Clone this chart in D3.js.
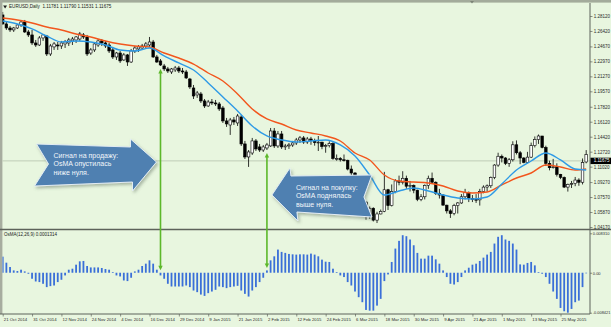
<!DOCTYPE html>
<html>
<head>
<meta charset="utf-8">
<script src="https://cdn.jsdelivr.net/npm/d3@7"></script>
<style>
  html, body { margin: 0; padding: 0; background: #e8f6df; }
  svg { display: block; font-family: "Liberation Sans", Arial, sans-serif; }
</style>
</head>
<body>
<svg id="chart" width="611" height="327"></svg>
<script>
// ---- data ----
const title = "EURUSD,Daily  1.11781 1.11790 1.11531 1.11675";
const osmaTitle = "OsMA(12,26,9) 0.0001314";
const lastPrice = 1.11675;

const priceTicks = [1.28120, 1.26420, 1.24670, 1.22970, 1.21270, 1.19570, 1.17820,
  1.16120, 1.14420, 1.12720, 1.11020, 1.09270, 1.07570, 1.05870, 1.04170];

const osmaTicks = [0.008310, 0, -0.008421];
const osmaTickLabels = ["0.008310", "0.00", "-0.008421"];

// bar index of each date label (one label every 8 bars)
const dateTickIdx = [0, 8, 16, 24, 32, 40, 48, 56, 64, 72, 80, 88, 96, 104, 112, 120, 128, 136, 144, 152];
const dateTicks = ["21 Oct 2014", "31 Oct 2014", "12 Nov 2014", "24 Nov 2014", "4 Dec 2014",
  "16 Dec 2014", "29 Dec 2014", "9 Jan 2015", "21 Jan 2015", "2 Feb 2015", "12 Feb 2015",
  "24 Feb 2015", "6 Mar 2015", "18 Mar 2015", "30 Mar 2015", "9 Apr 2015", "21 Apr 2015",
  "1 May 2015", "13 May 2015", "25 May 2015"];

// daily candles: [open, high, low, close]
const candles = [
  [1.2824, 1.2858, 1.2710, 1.2722], [1.2722, 1.2744, 1.2654, 1.2676], [1.2676, 1.2699, 1.2631, 1.2654],
  [1.2654, 1.2688, 1.2631, 1.2676], [1.2676, 1.2722, 1.2665, 1.2710], [1.2710, 1.2767, 1.2688, 1.2744],
  [1.2744, 1.2767, 1.2619, 1.2631], [1.2631, 1.2654, 1.2574, 1.2597], [1.2597, 1.2654, 1.2483, 1.2506],
  [1.2506, 1.2540, 1.2461, 1.2483], [1.2483, 1.2585, 1.2472, 1.2563], [1.2563, 1.2608, 1.2529, 1.2597],
  [1.2585, 1.2597, 1.2358, 1.2381], [1.2381, 1.2495, 1.2358, 1.2472], [1.2461, 1.2517, 1.2427, 1.2495],
  [1.2483, 1.2517, 1.2427, 1.2472], [1.2472, 1.2529, 1.2438, 1.2506], [1.2495, 1.2540, 1.2449, 1.2517],
  [1.2506, 1.2563, 1.2472, 1.2540], [1.2529, 1.2574, 1.2483, 1.2551], [1.2540, 1.2585, 1.2506, 1.2574],
  [1.2551, 1.2631, 1.2529, 1.2608], [1.2597, 1.2619, 1.2551, 1.2574], [1.2574, 1.2597, 1.2358, 1.2381],
  [1.2392, 1.2449, 1.2370, 1.2427], [1.2427, 1.2517, 1.2404, 1.2495], [1.2483, 1.2551, 1.2461, 1.2529],
  [1.2529, 1.2551, 1.2472, 1.2506], [1.2506, 1.2529, 1.2449, 1.2472], [1.2483, 1.2506, 1.2392, 1.2415],
  [1.2427, 1.2461, 1.2324, 1.2347], [1.2347, 1.2404, 1.2313, 1.2392], [1.2392, 1.2415, 1.2279, 1.2302],
  [1.2313, 1.2392, 1.2302, 1.2370], [1.2370, 1.2381, 1.2245, 1.2290], [1.2290, 1.2438, 1.2279, 1.2415],
  [1.2415, 1.2472, 1.2392, 1.2449], [1.2438, 1.2483, 1.2404, 1.2461], [1.2449, 1.2495, 1.2427, 1.2472],
  [1.2472, 1.2517, 1.2449, 1.2495], [1.2483, 1.2574, 1.2461, 1.2517], [1.2517, 1.2540, 1.2336, 1.2347],
  [1.2347, 1.2370, 1.2279, 1.2290], [1.2302, 1.2324, 1.2245, 1.2256], [1.2245, 1.2268, 1.2188, 1.2211],
  [1.2211, 1.2234, 1.2165, 1.2188], [1.2177, 1.2222, 1.2154, 1.2211], [1.2200, 1.2245, 1.2177, 1.2222],
  [1.2222, 1.2245, 1.2165, 1.2188], [1.2188, 1.2222, 1.2154, 1.2177], [1.2177, 1.2200, 1.2097, 1.2109],
  [1.2097, 1.2109, 1.1984, 1.2007], [1.1995, 1.2029, 1.1870, 1.1904], [1.1916, 1.1961, 1.1882, 1.1938],
  [1.1927, 1.1950, 1.1825, 1.1848], [1.1848, 1.1870, 1.1768, 1.1791], [1.1791, 1.1859, 1.1780, 1.1836],
  [1.1836, 1.1870, 1.1802, 1.1825], [1.1825, 1.1859, 1.1791, 1.1814], [1.1814, 1.1836, 1.1734, 1.1757],
  [1.1768, 1.1791, 1.1598, 1.1621], [1.1621, 1.1655, 1.1553, 1.1587], [1.1575, 1.1655, 1.1462, 1.1632],
  [1.1632, 1.1666, 1.1575, 1.1609], [1.1598, 1.1700, 1.1564, 1.1677], [1.1666, 1.1689, 1.1337, 1.1360],
  [1.1360, 1.1394, 1.1189, 1.1212], [1.1212, 1.1291, 1.1099, 1.1269], [1.1257, 1.1428, 1.1235, 1.1394],
  [1.1394, 1.1416, 1.1280, 1.1303], [1.1326, 1.1360, 1.1269, 1.1291], [1.1291, 1.1348, 1.1269, 1.1326],
  [1.1314, 1.1371, 1.1291, 1.1348], [1.1337, 1.1541, 1.1326, 1.1507], [1.1507, 1.1541, 1.1314, 1.1337],
  [1.1337, 1.1507, 1.1314, 1.1473], [1.1473, 1.1507, 1.1303, 1.1326], [1.1326, 1.1360, 1.1291, 1.1337],
  [1.1337, 1.1371, 1.1303, 1.1348], [1.1348, 1.1394, 1.1326, 1.1371], [1.1371, 1.1428, 1.1348, 1.1405],
  [1.1405, 1.1450, 1.1371, 1.1428], [1.1428, 1.1450, 1.1360, 1.1382], [1.1382, 1.1439, 1.1360, 1.1416],
  [1.1416, 1.1440, 1.1350, 1.1400], [1.1400, 1.1420, 1.1340, 1.1375], [1.1375, 1.1450, 1.1280, 1.1380],
  [1.1380, 1.1385, 1.1300, 1.1330], [1.1330, 1.1360, 1.1260, 1.1340], [1.1340, 1.1390, 1.1320, 1.1365],
  [1.1365, 1.1380, 1.1180, 1.1195], [1.1195, 1.1240, 1.1170, 1.1195], [1.1195, 1.1210, 1.1160, 1.1180],
  [1.1180, 1.1240, 1.1160, 1.1175], [1.1175, 1.1180, 1.1060, 1.1075], [1.1075, 1.1115, 1.1000, 1.1030],
  [1.1030, 1.1040, 1.0840, 1.0845], [1.0845, 1.0880, 1.0820, 1.0850], [1.0850, 1.0860, 1.0690, 1.0700],
  [1.0700, 1.0710, 1.0500, 1.0550], [1.0550, 1.0650, 1.0510, 1.0630], [1.0630, 1.0640, 1.0480, 1.0495],
  [1.0495, 1.0590, 1.0462, 1.0565], [1.0565, 1.0615, 1.0560, 1.0595], [1.0595, 1.1043, 1.0585, 1.0840],
  [1.0840, 1.0850, 1.0610, 1.0660], [1.0660, 1.0900, 1.0650, 1.0820], [1.0820, 1.0960, 1.0800, 1.0940],
  [1.0940, 1.1000, 1.0890, 1.0925], [1.0925, 1.1050, 1.0900, 1.0970], [1.0970, 1.1000, 1.0850, 1.0880],
  [1.0880, 1.0940, 1.0820, 1.0890], [1.0890, 1.0900, 1.0800, 1.0835], [1.0835, 1.0840, 1.0710, 1.0730],
  [1.0730, 1.0790, 1.0710, 1.0760], [1.0760, 1.0900, 1.0730, 1.0890], [1.0890, 1.1000, 1.0850, 1.0970],
  [1.0970, 1.1035, 1.0910, 1.0925], [1.0925, 1.0935, 1.0780, 1.0800], [1.0800, 1.0850, 1.0740, 1.0780],
  [1.0780, 1.0790, 1.0660, 1.0665], [1.0665, 1.0670, 1.0570, 1.0600], [1.0600, 1.0620, 1.0520, 1.0570],
  [1.0570, 1.0680, 1.0550, 1.0660], [1.0660, 1.0700, 1.0570, 1.0690], [1.0690, 1.0790, 1.0680, 1.0760],
  [1.0760, 1.0850, 1.0730, 1.0810], [1.0810, 1.0820, 1.0700, 1.0740], [1.0740, 1.0780, 1.0700, 1.0730],
  [1.0730, 1.0790, 1.0690, 1.0725], [1.0725, 1.0850, 1.0660, 1.0820], [1.0820, 1.0890, 1.0800, 1.0870],
  [1.0870, 1.0900, 1.0820, 1.0885], [1.0885, 1.0990, 1.0860, 1.0980], [1.0980, 1.1130, 1.0960, 1.1120],
  [1.1120, 1.1260, 1.1100, 1.1220], [1.1220, 1.1240, 1.1150, 1.1200], [1.1200, 1.1210, 1.1120, 1.1140],
  [1.1140, 1.1200, 1.1100, 1.1180], [1.1180, 1.1390, 1.1160, 1.1350], [1.1350, 1.1400, 1.1240, 1.1260],
  [1.1260, 1.1280, 1.1130, 1.1200], [1.1200, 1.1210, 1.1140, 1.1150], [1.1150, 1.1270, 1.1140, 1.1210],
  [1.1210, 1.1375, 1.1200, 1.1340], [1.1340, 1.1445, 1.1320, 1.1410], [1.1410, 1.1467, 1.1360, 1.1450],
  [1.1450, 1.1450, 1.1310, 1.1320], [1.1320, 1.1340, 1.1110, 1.1140], [1.1140, 1.1170, 1.1060, 1.1090],
  [1.1090, 1.1190, 1.1080, 1.1100], [1.1100, 1.1140, 1.0990, 1.1015], [1.1015, 1.1020, 1.0960, 1.0980],
  [1.0980, 1.0990, 1.0860, 1.0870], [1.0870, 1.0910, 1.0819, 1.0900], [1.0900, 1.0940, 1.0860, 1.0910],
  [1.0910, 1.0985, 1.0880, 1.0950], [1.0950, 1.0970, 1.0885, 1.0925], [1.0925, 1.1195, 1.0900, 1.1150],
  [1.1155, 1.1290, 1.1140, 1.1240]
];

// moving averages, read every 4th bar
const maIdx = [0, 4, 8, 12, 16, 20, 24, 28, 32, 36, 40, 44, 48, 52, 56, 60, 64, 68, 72, 76,
  80, 84, 88, 92, 96, 100, 104, 108, 112, 116, 120, 124, 128, 132, 136, 140, 144, 148, 152, 156, 159];
const maFast = [1.2755, 1.2721, 1.2665, 1.2585, 1.2517, 1.2528, 1.2517, 1.2483, 1.2426, 1.2415,
  1.2449, 1.2358, 1.2279, 1.2199, 1.2052, 1.1893, 1.1734, 1.1563, 1.1450, 1.1405,
  1.1382, 1.1393, 1.1405, 1.1348, 1.1223, 1.1007, 1.0780, 1.0826, 1.0860, 1.0826,
  1.0780, 1.0746, 1.0735, 1.0758, 1.0905, 1.1064, 1.1166, 1.1257, 1.1178, 1.1075, 1.1064];
const maSlow = [1.2789, 1.2767, 1.2733, 1.2687, 1.2653, 1.2608, 1.2574, 1.2528, 1.2494, 1.2472,
  1.2460, 1.2392, 1.2335, 1.2267, 1.2165, 1.2074, 1.1927, 1.1756, 1.1643, 1.1586,
  1.1518, 1.1484, 1.1450, 1.1393, 1.1257, 1.1178, 1.1007, 1.0939, 1.0928, 1.0916,
  1.0882, 1.0826, 1.0803, 1.0814, 1.0894, 1.0973, 1.1030, 1.1121, 1.1098, 1.1064, 1.1075];

// OsMA histogram, one value per bar
const osma = [
  0.00339, 0.00212, 0.00121, 0.00049, 0.00036, 0.00064, 0.00028, -0.00021, -0.00127, -0.00184,
  -0.00197, -0.00233, -0.00303, -0.00282, -0.00269, -0.00197, -0.00148, -0.00057, 0.00064, 0.00085,
  0.00170, 0.00240, 0.00248, 0.00142, 0.00112, 0.00112, 0.00112, 0.00100, 0.00078, 0.00064,
  0.00015, -0.00057, -0.00078, -0.00163, -0.00176, -0.00106, 0.00028, 0.00064, 0.00142, 0.00191,
  0.00261, 0.00191, 0.00064, -0.00057, -0.00127, -0.00233, -0.00290, -0.00290, -0.00290, -0.00290,
  -0.00269, -0.00303, -0.00375, -0.00409, -0.00460, -0.00488, -0.00430, -0.00396, -0.00360, -0.00290,
  -0.00303, -0.00324, -0.00303, -0.00290, -0.00276, -0.00375, -0.00445, -0.00502, -0.00375, -0.00303,
  -0.00197, -0.00106, 0.00049, 0.00261, 0.00346, 0.00488, 0.00439, 0.00418, 0.00396, 0.00388,
  0.00382, 0.00388, 0.00388, 0.00382, 0.00403, 0.00382, 0.00346, 0.00276, 0.00233, 0.00227,
  0.00085, 0.00015, -0.00057, -0.00091, -0.00197, -0.00269, -0.00396, -0.00515, -0.00621, -0.00784,
  -0.00799, -0.00799, -0.00693, -0.00551, -0.00176, -0.00036, 0.00227, 0.00509, 0.00672, 0.00791,
  0.00770, 0.00700, 0.00579, 0.00418, 0.00297, 0.00297, 0.00360, 0.00360, 0.00282, 0.00191,
  0.00049, -0.00091, -0.00233, -0.00248, -0.00197, -0.00091, 0.00049, 0.00106, 0.00170, 0.00191,
  0.00248, 0.00318, 0.00382, 0.00439, 0.00615, 0.00757, 0.00791, 0.00700, 0.00672, 0.00615,
  0.00488, 0.00176, 0.00170, 0.00206, 0.00227, 0.00155, 0.00015, -0.00021, -0.00091, -0.00233,
  -0.00396, -0.00551, -0.00742, -0.00812, -0.00842, -0.00763, -0.00621, -0.00587, -0.00303, -0.00010
];

const sellSignalIdx = 43;
const buySignalIdx = 72;
const sellText = ["Сигнал на продажу:", "OsMA опустилась", "ниже нуля."];
const buyText = ["Сигнал на покупку:", "OsMA поднялась", "выше нуля."];

// ---- layout ----
const W = 611, H = 327;
const plotL = 2.5, plotR = 590;
const mainTop = 3, mainBottom = 229, subTop = 230, subBottom = 314;
const bg = "#e8f6df";
const smallFont = 4.5;

const svg = d3.select("#chart");

const x = d3.scaleLinear().domain([0, candles.length - 1]).range([2.7, 586.2]);
const y = d3.scaleLinear().domain([1.0417, 1.2812]).range([227, 16]);
const yOsma = d3.scaleLinear().domain([-0.008421, 0.008310]).range([312.7, 233.3]);

svg.append("rect").attr("width", W).attr("height", H).attr("fill", bg);

const defs = svg.append("defs");
defs.append("clipPath").attr("id", "clipMain").append("rect")
  .attr("x", plotL).attr("y", mainTop).attr("width", plotR - plotL).attr("height", mainBottom - mainTop);
defs.append("clipPath").attr("id", "clipSub").append("rect")
  .attr("x", plotL).attr("y", subTop).attr("width", plotR - plotL).attr("height", subBottom - subTop);
const shadow = defs.append("filter").attr("id", "shadow")
  .attr("x", "-20%").attr("y", "-20%").attr("width", "140%").attr("height", "150%");
shadow.append("feDropShadow").attr("dx", 1.5).attr("dy", 2).attr("stdDeviation", 1.5)
  .attr("flood-color", "#5a6a5a").attr("flood-opacity", 0.45);

// frame
svg.append("rect").attr("x", 0).attr("y", 0).attr("width", W).attr("height", 2.6).attr("fill", "#a3ab9b");
svg.append("rect").attr("x", 0).attr("y", 0).attr("width", 2.4).attr("height", subBottom).attr("fill", "#a7ad9f");

// current price line
svg.append("line")
  .attr("x1", plotL).attr("x2", plotR)
  .attr("y1", y(lastPrice)).attr("y2", y(lastPrice))
  .attr("stroke", "#b4c2ab").attr("stroke-width", 0.8);

// ---- candles ----
const gMain = svg.append("g").attr("clip-path", "url(#clipMain)");
const bodyW = 2.6;
const candleG = gMain.selectAll("g.candle").data(candles).join("g").attr("class", "candle");
candleG.append("line")
  .attr("x1", (d, i) => x(i)).attr("x2", (d, i) => x(i))
  .attr("y1", d => y(d[1])).attr("y2", d => y(d[2]))
  .attr("stroke", "#000").attr("stroke-width", 0.8);
candleG.append("rect")
  .attr("x", (d, i) => x(i) - bodyW / 2)
  .attr("y", d => y(Math.max(d[0], d[3])))
  .attr("width", bodyW)
  .attr("height", d => Math.max(0.8, Math.abs(y(d[0]) - y(d[3]))))
  .attr("fill", d => d[3] >= d[0] ? "#ffffff" : "#000000")
  .attr("stroke", "#000").attr("stroke-width", 0.6);

// ---- moving averages ----
const maLine = d3.line().x((d, i) => x(maIdx[i])).y(d => y(d)).curve(d3.curveMonotoneX);
gMain.append("path").datum(maSlow).attr("d", maLine)
  .attr("fill", "none").attr("stroke", "#f2561d").attr("stroke-width", 1.4);
gMain.append("path").datum(maFast).attr("d", maLine)
  .attr("fill", "none").attr("stroke", "#2e9ae6").attr("stroke-width", 1.4);

// ---- OsMA histogram ----
const gSub = svg.append("g").attr("clip-path", "url(#clipSub)");
gSub.selectAll("rect.osma").data(osma).join("rect").attr("class", "osma")
  .attr("x", (d, i) => x(i) - 0.9)
  .attr("y", d => Math.min(yOsma(d), yOsma(0)))
  .attr("width", 1.8)
  .attr("height", d => Math.max(0.6, Math.abs(yOsma(d) - yOsma(0))))
  .attr("fill", "#3a6fd8");

// ---- panel separators and axes ----
svg.append("line").attr("x1", 0).attr("x2", W).attr("y1", mainBottom + 0.5).attr("y2", mainBottom + 0.5)
  .attr("stroke", "#5d625a").attr("stroke-width", 1.4);
svg.append("line").attr("x1", 0).attr("x2", plotR).attr("y1", subBottom).attr("y2", subBottom)
  .attr("stroke", "#5d625a").attr("stroke-width", 1);

function styleAxis(g, size) {
  g.select(".domain").attr("stroke", "#5d625a").attr("stroke-width", 1);
  g.selectAll(".tick line").attr("stroke", "#5d625a").attr("stroke-width", 0.7);
  g.selectAll(".tick text").attr("fill", "#2b2b2b").attr("font-size", size)
    .attr("font-family", "'Liberation Sans', Arial, sans-serif");
}

svg.append("g").attr("transform", `translate(${plotR},0)`)
  .call(d3.axisRight(y).tickValues(priceTicks).tickFormat(d3.format(".5f")).tickSize(2.5).tickPadding(1.2))
  .call(g => g.select(".domain").attr("d", `M0,${mainTop}V${mainBottom}`))
  .call(g => styleAxis(g, smallFont));

svg.append("g").attr("transform", `translate(${plotR},0)`)
  .call(d3.axisRight(yOsma).tickValues(osmaTicks).tickFormat((d, i) => osmaTickLabels[i]).tickSize(2).tickPadding(0.8))
  .call(g => g.select(".domain").attr("d", `M0,${subTop}V${subBottom}`))
  .call(g => styleAxis(g, 4))
  .call(g => g.selectAll(".tick text").attr("textLength", (d, i) => i === 2 ? 17.5 : null)
    .attr("lengthAdjust", "spacingAndGlyphs"));

svg.append("g").attr("transform", `translate(0,${subBottom})`)
  .call(d3.axisBottom(x).tickValues(dateTickIdx).tickFormat((d, i) => dateTicks[i]).tickSize(2.5).tickPadding(1.5))
  .call(g => g.select(".domain").remove())
  .call(g => styleAxis(g, 4.3))
  .call(g => g.selectAll(".tick text").attr("text-anchor", "start").attr("dx", 0.6));

// current price box
svg.append("rect").attr("x", plotR + 0.5).attr("y", y(lastPrice) - 3.2)
  .attr("width", W - plotR).attr("height", 6.4).attr("fill", "#000");
svg.append("text").attr("x", plotR + 3.7).attr("y", y(lastPrice) + 1.6)
  .attr("font-size", smallFont).attr("fill", "#fff").text(d3.format(".5f")(lastPrice));

// titles
svg.append("path").attr("d", "M3.2,5.5 L7,5.5 L5.1,8.5 Z").attr("fill", "#1a1a1a");
svg.append("text").attr("x", 9).attr("y", 8.4).attr("font-size", 4.6).attr("fill", "#1a1a1a")
  .attr("xml:space", "preserve").text(title);
svg.append("text").attr("x", 4).attr("y", 236.3).attr("font-size", 4.5).attr("fill", "#1a1a1a").text(osmaTitle);
svg.append("path").attr("d", "M470,1 L474,1 L472,3.5 Z").attr("fill", "#7c8476");

// ---- signal arrows ----
const green = "#5cb82a";
function signalArrow(idx) {
  const cx = x(idx);
  const top = y(candles[idx][2]) + 3;
  const bottom = Math.min(yOsma(osma[idx]), yOsma(0)) - 2.5;
  const g = svg.append("g");
  g.append("line").attr("x1", cx).attr("x2", cx).attr("y1", top + 3).attr("y2", bottom - 3)
    .attr("stroke", green).attr("stroke-width", 1.6);
  g.append("path").attr("d", `M${cx},${top} L${cx - 2.2},${top + 4.5} L${cx + 2.2},${top + 4.5} Z`).attr("fill", green);
  g.append("path").attr("d", `M${cx},${bottom} L${cx - 2.2},${bottom - 4.5} L${cx + 2.2},${bottom - 4.5} Z`).attr("fill", green);
}
signalArrow(sellSignalIdx);
signalArrow(buySignalIdx);

// ---- callouts ----
const calloutFill = "#4f80b1";
const sx = x(sellSignalIdx);
const sellShape = [[sx - 124, 144], [sx - 30, 147], [sx - 30, 139], [sx - 4, 162], [sx - 28, 191],
  [sx - 28, 182], [sx - 126, 186], [sx - 112, 164]];
svg.append("path").attr("d", d3.line()(sellShape) + "Z")
  .attr("fill", calloutFill).attr("stroke", "#e3ecf3").attr("stroke-width", 1)
  .attr("filter", "url(#shadow)");
svg.append("g").selectAll("text").data(sellText).join("text")
  .attr("x", sx - 107).attr("y", (d, i) => 157.5 + i * 8.6)
  .attr("font-size", 7).attr("fill", "#f2f6fa").text(d => d);

const bx = x(buySignalIdx);
const buyShape = [[bx + 5, 195], [bx + 23, 168], [bx + 24, 176], [bx + 105, 175], [bx + 97, 197],
  [bx + 105, 217], [bx + 30, 212], [bx + 31, 221]];
svg.append("path").attr("d", d3.line()(buyShape) + "Z")
  .attr("fill", calloutFill).attr("stroke", "#e3ecf3").attr("stroke-width", 1)
  .attr("filter", "url(#shadow)");
svg.append("g").selectAll("text").data(buyText).join("text")
  .attr("x", bx + 29).attr("y", (d, i) => 189.5 + i * 8.6)
  .attr("font-size", 7).attr("fill", "#f2f6fa").text(d => d);
</script>
</body>
</html>
